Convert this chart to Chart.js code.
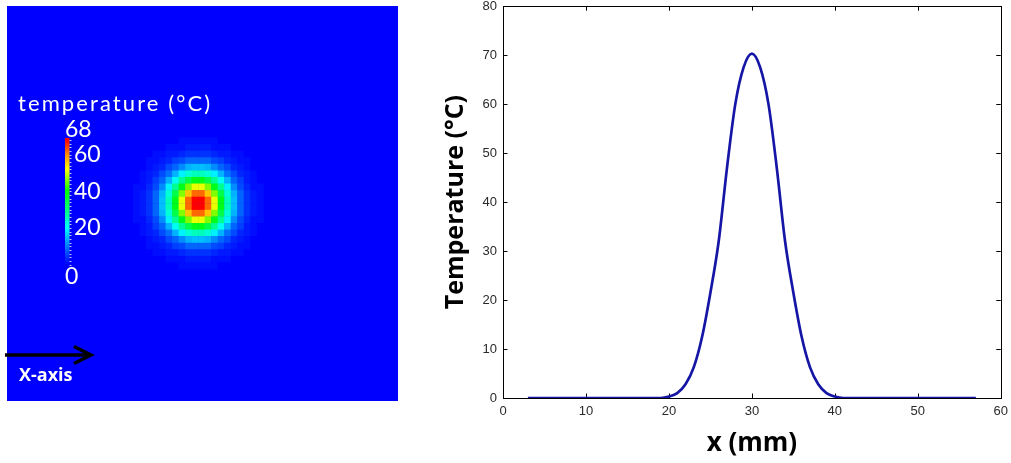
<!DOCTYPE html>
<html>
<head>
<meta charset="utf-8">
<title>Temperature spot and profile</title>
<style>
  html, body { margin: 0; padding: 0; background: #fff; }
  body { width: 1011px; height: 463px; position: relative; overflow: hidden; }
  #mapBox { position: absolute; left: 0; top: 0; width: 410px; height: 410px; }
  #lineBox { position: absolute; left: 430px; top: -6px; width: 585px; height: 469px; }
</style>
</head>
<body>
<div id="mapBox"><canvas id="mapChart"></canvas></div>
<div id="lineBox"><canvas id="lineChart"></canvas></div>
<script src="https://cdn.jsdelivr.net/npm/chart.js@4/dist/chart.umd.min.js"></script>
<script>
// profile through the centre of the spot (x in mm, temperature in degC)
var xPos = [3,4,5,6,7,8,9,10,11,12,13,14,15,16,17,18,19,
            20,21,22,23,24,25,26,27,28,29,30,31,32,33,34,35,36,37,38,39,40,
            41,42,43,44,45,46,47,48,49,50,51,52,53,54,55,56,57];
var temps = [0,0,0,0,0,0,0,0,0,0,0,0,0,0,0,0,0,
             0.3,1.0,2.8,6.3,12.5,21.5,32,47,60,67.5,70.3,67.5,60,47,32,21.5,12.5,6.3,2.8,1.0,0.3,
             0,0,0,0,0,0,0,0,0,0,0,0,0,0,0,0,0];
var xTicks = [0, 10, 20, 30, 40, 50, 60];
var yTicks = [0, 10, 20, 30, 40, 50, 60, 70, 80];

// heat map cells around the spot, 1 mm grid (top row first)
var heatX = [20.5,21.5,22.5,23.5,24.5,25.5,26.5,27.5,28.5,29.5,30.5,31.5,32.5,33.5,34.5,35.5,36.5,37.5,38.5,39.5];
var heatY = [39.5,38.5,37.5,36.5,35.5,34.5,33.5,32.5,31.5,30.5,29.5,28.5,27.5,26.5,25.5,24.5,23.5,22.5,21.5,20.5];
var heatRows = [
  [0,0,0,0,0,0,0,1,1,1,1,1,1,0,0,0,0,0,0,0],
  [0,0,0,0,0,1,1,1,2,2,2,2,1,1,1,0,0,0,0,0],
  [0,0,0,1,1,2,2,3,4,4,4,4,3,2,2,1,1,0,0,0],
  [0,0,1,1,2,3,5,6,8,8,8,8,6,5,3,2,1,1,0,0],
  [0,0,1,2,3,6,8,11,14,15,15,14,11,8,6,3,2,1,0,0],
  [0,1,2,3,6,9,14,19,23,25,25,23,19,14,9,6,3,2,1,0],
  [0,1,2,5,8,14,21,28,34,38,38,34,28,21,14,8,5,2,1,0],
  [1,1,3,6,11,19,28,38,46,51,51,46,38,28,19,11,6,3,1,1],
  [1,2,4,8,14,23,34,46,56,62,62,56,46,34,23,14,8,4,2,1],
  [1,2,4,8,15,25,38,51,62,69,69,62,51,38,25,15,8,4,2,1],
  [1,2,4,8,15,25,38,51,62,69,69,62,51,38,25,15,8,4,2,1],
  [1,2,4,8,14,23,34,46,56,62,62,56,46,34,23,14,8,4,2,1],
  [1,1,3,6,11,19,28,38,46,51,51,46,38,28,19,11,6,3,1,1],
  [0,1,2,5,8,14,21,28,34,38,38,34,28,21,14,8,5,2,1,0],
  [0,1,2,3,6,9,14,19,23,25,25,23,19,14,9,6,3,2,1,0],
  [0,0,1,2,3,6,8,11,14,15,15,14,11,8,6,3,2,1,0,0],
  [0,0,1,1,2,3,5,6,8,8,8,8,6,5,3,2,1,1,0,0],
  [0,0,0,1,1,2,2,3,4,4,4,4,3,2,2,1,1,0,0,0],
  [0,0,0,0,0,1,1,1,2,2,2,2,1,1,1,0,0,0,0,0],
  [0,0,0,0,0,0,0,1,1,1,1,1,1,0,0,0,0,0,0,0]
];
var barMin = 0, barMax = 68;
var barLabels = [60, 40, 20];

// rainbow colour map (value, rgb)
var cmap = [
  [0, [0,0,255]], [8, [0,100,255]], [20, [0,255,255]], [30, [0,255,120]],
  [40, [0,255,0]], [52, [255,255,0]], [60, [255,140,0]], [68, [255,0,0]]
];

function tempColor(v) {
  if (v <= cmap[0][0]) return 'rgb(' + cmap[0][1].join(',') + ')';
  for (var i = 1; i < cmap.length; i++) {
    if (v <= cmap[i][0]) {
      var a = cmap[i-1], b = cmap[i];
      var t = (v - a[0]) / (b[0] - a[0]);
      var c = a[1].map(function(ch, k) { return Math.round(ch + (b[1][k] - ch) * t); });
      return 'rgb(' + c.join(',') + ')';
    }
  }
  return 'rgb(' + cmap[cmap.length-1][1].join(',') + ')';
}

var cells = [];
heatRows.forEach(function(row, r) {
  row.forEach(function(v, c) {
    cells.push({x: heatX[c], y: heatY[r], v: v});
  });
});

// colour bar, labels and arrow on top of the map
var mapDecor = {
  id: 'mapDecor',
  beforeDatasetsDraw: function(chart) {
    var a = chart.chartArea, ctx = chart.ctx;
    ctx.save();
    ctx.fillStyle = tempColor(barMin);
    ctx.fillRect(a.left, a.top, a.right - a.left, a.bottom - a.top);
    ctx.restore();
  },
  afterDraw: function(chart) {
    var ctx = chart.ctx;
    var barLeft = 65, barW = 4.5, yZero = 264.5, yTop = 140;
    function barY(v) { return yZero - (v - barMin) / (barMax - barMin) * (yZero - yTop); }
    ctx.save();
    var g = ctx.createLinearGradient(0, yZero, 0, yTop);
    cmap.forEach(function(s) { g.addColorStop((s[0] - barMin) / (barMax - barMin), tempColor(s[0])); });
    ctx.fillStyle = g;
    ctx.fillRect(barLeft, yTop - 2, barW, yZero - yTop + 2);
    ctx.strokeStyle = 'rgba(255,255,255,0.75)';
    ctx.lineWidth = 1;
    for (var v = barMin; v <= barMax; v += 2) {
      ctx.beginPath();
      ctx.moveTo(barLeft + barW, Math.round(barY(v)) + 0.5);
      ctx.lineTo(barLeft + barW + 2, Math.round(barY(v)) + 0.5);
      ctx.stroke();
    }
    ctx.fillStyle = '#fff';
    ctx.textBaseline = 'middle';
    ctx.textAlign = 'left';
    ctx.font = '23px Lato';
    barLabels.forEach(function(v) { ctx.fillText(String(v), barLeft + 9, barY(v)); });
    ctx.fillText(String(barMax), barLeft, yTop - 10);
    ctx.fillText(String(barMin), barLeft, yZero + 12);
    ctx.font = '22px Lato';
    ctx.letterSpacing = '2.1px';
    ctx.textBaseline = 'alphabetic';
    ctx.fillText('temperature (°C)', 18, 111);
    ctx.letterSpacing = '0px';
    // X-axis arrow
    ctx.strokeStyle = '#000';
    ctx.lineWidth = 3.5;
    ctx.beginPath();
    ctx.moveTo(5, 355); ctx.lineTo(89, 355);
    ctx.stroke();
    ctx.beginPath();
    ctx.moveTo(74, 346.5); ctx.lineTo(91, 355); ctx.lineTo(74, 363.5);
    ctx.stroke();
    ctx.fillStyle = '#fff';
    ctx.font = 'bold 18px "Open Sans"';
    ctx.textBaseline = 'middle';
    ctx.fillText('X-axis', 19, 376);
    ctx.restore();
  }
};

new Chart(document.getElementById('mapChart'), {
  type: 'scatter',
  data: {
    datasets: [{
      data: cells,
      pointStyle: 'rect',
      pointRadius: function(ctx) {
        var s = ctx.chart.scales.x;
        return Math.abs(s.getPixelForValue(1) - s.getPixelForValue(0)) / Math.SQRT2 + 0.35;
      },
      backgroundColor: function(ctx) { return ctx.raw ? tempColor(ctx.raw.v) : tempColor(0); },
      borderWidth: 0
    }]
  },
  options: {
    animation: false,
    responsive: true,
    maintainAspectRatio: false,
    events: [],
    layout: { padding: { left: 7, top: 6, right: 12, bottom: 9 } },
    scales: {
      x: { type: 'linear', display: false, min: 0.63, max: 60.63 },
      y: { type: 'linear', display: false, min: 0, max: 60 }
    },
    plugins: { legend: { display: false }, tooltip: { enabled: false } }
  },
  plugins: [mapDecor]
});

// box with inward ticks on all four sides
var frame = {
  id: 'frame',
  beforeDatasetsDraw: function(chart) {
    var a = chart.chartArea, ctx = chart.ctx;
    var sx = chart.scales.x, sy = chart.scales.y, len = 4.5;
    ctx.save();
    ctx.strokeStyle = '#000';
    ctx.lineWidth = 1;
    ctx.beginPath();
    sx.ticks.forEach(function(t) {
      var px = Math.round(sx.getPixelForValue(t.value)) + 0.5;
      ctx.moveTo(px, a.bottom); ctx.lineTo(px, a.bottom - len);
      ctx.moveTo(px, a.top); ctx.lineTo(px, a.top + len);
    });
    sy.ticks.forEach(function(t) {
      var py = Math.round(sy.getPixelForValue(t.value)) + 0.5;
      ctx.moveTo(a.left, py); ctx.lineTo(a.left + len, py);
      ctx.moveTo(a.right, py); ctx.lineTo(a.right - len, py);
    });
    ctx.stroke();
    ctx.strokeRect(Math.round(a.left) + 0.5, Math.round(a.top) + 0.5,
                   Math.round(a.right - a.left), Math.round(a.bottom - a.top));
    ctx.restore();
  }
};

var tickFont = { family: '"Liberation Sans", Arial, sans-serif', size: 13, lineHeight: 0.95 };

new Chart(document.getElementById('lineChart'), {
  type: 'line',
  data: {
    datasets: [{
      data: xPos.map(function(x, i) { return { x: x, y: temps[i] }; }),
      borderColor: '#1616a6',
      borderWidth: 2.7,
      pointRadius: 0,
      cubicInterpolationMode: 'monotone',
      fill: false
    }]
  },
  options: {
    animation: false,
    responsive: true,
    maintainAspectRatio: false,
    events: [],
    layout: { padding: 0 },
    scales: {
      x: {
        type: 'linear', min: 0, max: 60,
        afterBuildTicks: function(s) { s.ticks = xTicks.map(function(v) { return { value: v }; }); },
        afterFit: function(s) { s.height = 65; },
        grid: { display: false, drawTicks: false },
        border: { display: false },
        ticks: { color: '#2a2a2a', font: tickFont, padding: 7, maxRotation: 0, autoSkip: false },
        title: { display: true, text: 'x (mm)', color: '#000',
                 font: { family: '"Open Sans"', weight: 'bold', size: 26 }, padding: { top: 0, bottom: 4 } }
      },
      y: {
        type: 'linear', min: 0, max: 80,
        afterBuildTicks: function(s) { s.ticks = yTicks.map(function(v) { return { value: v }; }); },
        afterFit: function(s) { s.width = 73; },
        grid: { display: false, drawTicks: false },
        border: { display: false },
        ticks: { color: '#2a2a2a', font: tickFont, padding: 6, autoSkip: false },
        title: { display: true, text: 'Temperature (°C)', color: '#000',
                 font: { family: '"Open Sans"', weight: 'bold', size: 25 }, padding: { top: 11, bottom: 0 } }
      }
    },
    plugins: { legend: { display: false }, tooltip: { enabled: false } }
  },
  plugins: [frame]
});
</script>
</body>
</html>
